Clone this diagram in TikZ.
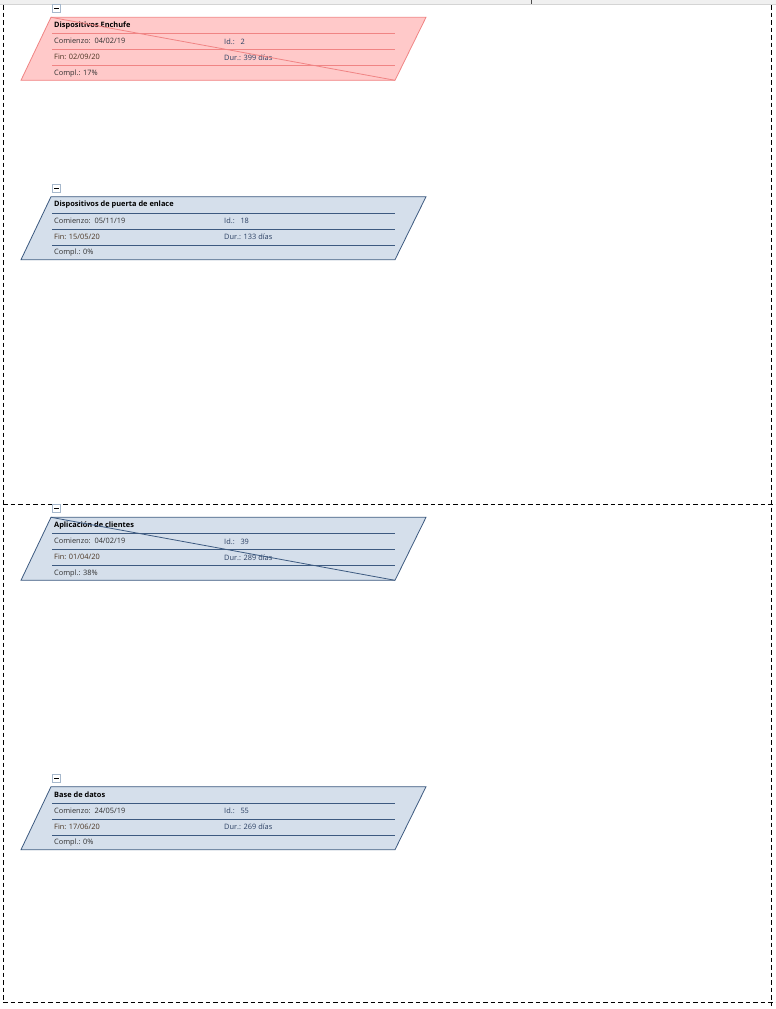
\documentclass[tikz,border=0pt]{standalone}
\usepackage{fontspec}
\setmainfont{Open Sans}
\definecolor{redfill}{HTML}{FFC9C9}
\definecolor{redline}{HTML}{F08484}
\definecolor{bluefill}{HTML}{D5DFEB}
\definecolor{blueline}{HTML}{3D5A80}
\definecolor{txtgray}{HTML}{303030}
\definecolor{txtfin}{HTML}{4A3420}
\definecolor{txtid}{HTML}{2A3F62}
\definecolor{iconline}{HTML}{A6B8CC}
\definecolor{bandgray}{HTML}{F0F0F0}
\definecolor{bandline}{HTML}{D4D4D4}
\tikzset{
  redbox/.style={fill=redfill, draw=redline},
  bluebox/.style={fill=bluefill, draw=blueline},
  pageline/.style={draw=black, line width=1pt, dash pattern=on 4.5pt off 3pt},
  titletext/.style={anchor=west, inner sep=0pt, font=\fontsize{7.4}{8}\selectfont\bfseries, text=black},
  celltext/.style={anchor=west, inner sep=0pt, font=\fontsize{7.4}{8}\selectfont, text=txtgray},
  iconbox/.style={draw=iconline, fill=white, line width=0.8pt, minimum size=8pt, inner sep=0pt},
}
\newcommand\taskbox[9]{%
  \begin{scope}[shift={(0,#2)}]
    \coordinate (#1-tl) at (51,0);
    \coordinate (#1-tr) at (426,0);
    \coordinate (#1-br) at (395,63);
    \coordinate (#1-bl) at (21,63);
    \node[iconbox] (#1-icon) at (56.5,-8.5) {};
    \draw[line width=1pt] ([xshift=-2.3pt]#1-icon.center) -- ([xshift=2.3pt]#1-icon.center);
    \path[#3, line width=0.8pt] (#1-tl) -- (#1-tr) -- (#1-br) -- (#1-bl) -- cycle;
    \foreach \yy [count=\k] in {16.3,32.3,48.3}{
      \coordinate (#1-la\k) at (52,\yy);
      \coordinate (#1-lb\k) at (395,\yy);
      \path[#3, fill=none, line width=0.8pt] (#1-la\k) -- (#1-lb\k);
    }
    \node[titletext] (#1-title) at (54,8) {#4};
    \node[celltext] (#1-start) at (54,24) {Comienzo:\ \ #5};
    \node[celltext, text=txtid] (#1-id) at (224,24) {Id.:\ \ \ #6};
    \node[celltext, text=txtfin] (#1-end) at (54,40) {Fin: #7};
    \node[celltext, text=txtid] (#1-dur) at (224,40) {Dur.: #8};
    \node[celltext] (#1-compl) at (54,56) {Compl.: #9};
  \end{scope}}
\begin{document}
\begin{tikzpicture}[x=1pt, y=-1pt]
  \useasboundingbox (0,0) rectangle (776,1009);
  \fill[white] (0,0) rectangle (776,1009);
  % top band
  \fill[bandgray] (0,0) rectangle (776,4.5);
  \coordinate (band-l) at (0,4.5);
  \coordinate (band-r) at (776,4.5);
  \draw[bandline, line width=0.8pt] (band-l) -- (band-r);
  \coordinate (tick-t) at (531,0);
  \coordinate (tick-b) at (531,4);
  \draw[black!70, line width=0.8pt] (tick-t) -- (tick-b);
  % page borders
  \coordinate (pg-tl) at (3,5);
  \coordinate (pg-bl) at (3,1002);
  \coordinate (pg-tr) at (771,5);
  \coordinate (pg-br) at (771,1002);
  \coordinate (pg-brx) at (771,1006);
  \coordinate (pg-ml) at (3,504);
  \coordinate (pg-mr) at (776,504);
  \coordinate (pg-bre) at (776,1002);
  \draw[pageline] (pg-tl) -- (pg-bl);
  \draw[pageline] (pg-tr) -- (pg-brx);
  \draw[pageline] (pg-ml) -- (pg-mr);
  \draw[pageline] (pg-bl) -- (pg-bre);
  % task boxes
  \taskbox{t1}{17.3}{redbox}{Dispositivos Enchufe}{04/02/19}{2}{02/09/20}{399 días}{17\%}
  \draw[redline, line width=0.8pt] (t1-tl) -- (t1-br);
  \taskbox{t2}{196.7}{bluebox}{Dispositivos de puerta de enlace}{05/11/19}{18}{15/05/20}{133 días}{0\%}
  \taskbox{t3}{517.3}{bluebox}{Aplicación de clientes}{04/02/19}{39}{01/04/20}{289 días}{38\%}
  \draw[blueline, line width=0.8pt] (t3-tl) -- (t3-br);
  \taskbox{t4}{786.7}{bluebox}{Base de datos}{24/05/19}{55}{17/06/20}{269 días}{0\%}
\end{tikzpicture}
\end{document}
